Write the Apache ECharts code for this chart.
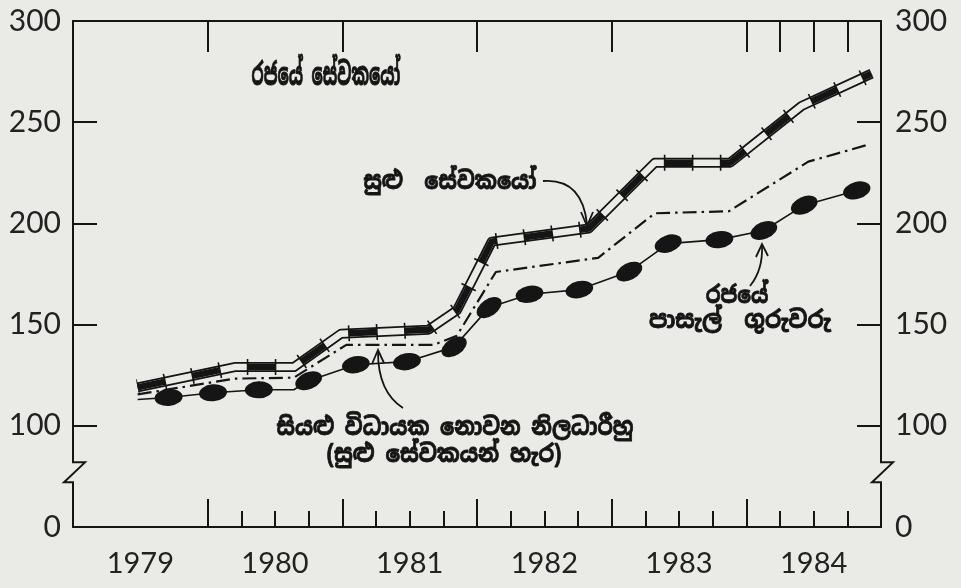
<!DOCTYPE html>
<html>
<head>
<meta charset="utf-8">
<script src="https://cdn.jsdelivr.net/npm/echarts@6/dist/echarts.min.js"></script>
<style>
html, body { margin: 0; background: #eaeae6; }
#chart { width: 961px; height: 588px; }
</style>
</head>
<body>
<div id="chart"></div>
<script>
// සුළු සේවකයෝ (ද්විත්ව රේඛාව)
var minorT = [1979.48, 1980.2, 1980.64, 1980.99, 1981.64, 1981.85, 1982.11, 1982.83, 1983.32, 1983.88, 1984.41, 1984.93];
var minorV = [119, 129, 129, 145.5, 147.5, 157, 191, 197.5, 230, 230, 258, 274];
// විධායක නොවන නිලධාරීහු (ඉරි-තිත් රේඛාව)
var officerT = [1979.48, 1980.2, 1980.64, 1981.03, 1981.68, 1981.85, 1982.14, 1982.9, 1983.32, 1983.87, 1984.46, 1984.91];
var officerV = [115.5, 123.3, 123.8, 140, 140, 144.5, 176, 183, 205, 206, 230.5, 239];
// පාසැල් ගුරුවරු (ඕවලාකාර ලකුණු)
var teacherT = [1979.48, 1979.71, 1980.04, 1980.38, 1980.64, 1980.75, 1981.1, 1981.48, 1981.83, 1982.09, 1982.39, 1982.76, 1983.13, 1983.42, 1983.8, 1984.13, 1984.43, 1984.82];
var teacherV = [113, 114, 116.3, 117.8, 117.8, 122.3, 130.2, 131.7, 139, 158.4, 165, 167.3, 176.2, 190, 192, 196.5, 209, 216.3];
var teacherNoMark = [0, 4];

var yearTicks = [1980, 1981, 1982, 1983, 1984];
var quarterTicks = [1980.25, 1980.5, 1980.75, 1981.25, 1981.5, 1981.75, 1982.25, 1982.5, 1982.75,
    1983.25, 1983.5, 1983.75, 1984.25, 1984.5, 1984.75];
var topTicks = [1980, 1981, 1982, 1983, 1984, 1984.25, 1984.5, 1984.75];
var yearLabelPos = [1979.5, 1980.5, 1981.5, 1982.5, 1983.5, 1984.5];

var INK = '#151515';
var PAPER = '#eaeae6';
var SI_FONT = '"Noto Sans Sinhala", "Iskoola Pota", "Noto Sans", sans-serif';

function pairs(t, v) {
    var out = [];
    for (var i = 0; i < t.length; i++) out.push([t[i], v[i]]);
    return out;
}

var chart = echarts.init(document.getElementById('chart'));

var gridBox = { left: 73, right: 80, top: 21, bottom: 61 };
var tickStyle = { color: INK, width: 2 };

function yAxisDef(pos, margin) {
    return {
        type: 'value', min: 50, max: 300, interval: 50, position: pos, gridIndex: 0,
        axisLine: { show: true, lineStyle: { color: INK, width: 2 } },
        axisTick: { show: true, inside: true, length: 24, lineStyle: tickStyle },
        splitLine: { show: false },
        axisLabel: {
            color: '#222', fontSize: 30, fontFamily: 'Lato', margin: margin,
            formatter: function (v) { return v === 50 ? '0' : String(v); }
        }
    };
}

var option = {
    backgroundColor: PAPER,
    animation: false,
    grid: [gridBox, echarts.util.clone(gridBox)],
    xAxis: [{
        type: 'value', min: 1979, max: 1985, position: 'bottom', gridIndex: 0,
        axisLine: { show: true, onZero: false, lineStyle: { color: INK, width: 2 } },
        axisTick: { show: true, inside: true, length: 28, customValues: yearTicks, lineStyle: tickStyle },
        splitLine: { show: false },
        axisLabel: {
            customValues: yearLabelPos, color: '#222', fontSize: 29, fontFamily: 'Lato', margin: 22,
            formatter: function (v) { return String(Math.floor(v)); }
        }
    }, {
        type: 'value', min: 1979, max: 1985, position: 'top', gridIndex: 0,
        axisLine: { show: true, onZero: false, lineStyle: { color: INK, width: 2 } },
        axisTick: { show: true, inside: true, length: 31, customValues: topTicks, lineStyle: tickStyle },
        splitLine: { show: false },
        axisLabel: { show: false }
    }, {
        type: 'value', min: 1979, max: 1985, position: 'bottom', gridIndex: 1,
        axisLine: { show: false, onZero: false },
        axisTick: { show: true, inside: true, length: 16, customValues: quarterTicks, lineStyle: tickStyle },
        splitLine: { show: false },
        axisLabel: { show: false }
    }],
    yAxis: [
        yAxisDef('left', 12),
        yAxisDef('right', 14),
        { type: 'value', min: 50, max: 300, gridIndex: 1, show: false, splitLine: { show: false } }
    ],
    series: [{
        name: 'සුළු සේවකයෝ', type: 'line', silent: true, symbol: 'none', z: 3,
        data: pairs(minorT, minorV),
        lineStyle: { color: INK, width: 10, cap: 'butt', join: 'round' }
    }, {
        type: 'line', silent: true, symbol: 'none', z: 4,
        data: pairs(minorT, minorV),
        lineStyle: { color: PAPER, width: 6.5, cap: 'butt', join: 'round' }
    }, {
        type: 'line', silent: true, symbol: 'none', z: 5,
        data: pairs(minorT, minorV),
        lineStyle: { color: INK, width: 6.5, type: [28, 28], cap: 'butt', join: 'round' }
    }, {
        type: 'line', silent: true, symbol: 'none', z: 6,
        data: pairs(minorT, minorV),
        lineStyle: { color: INK, width: 16, type: [1.6, 26.4], dashOffset: 0.8, cap: 'butt' }
    }, {
        name: 'සියළු විධායක නොවන නිලධාරීහු', type: 'line', silent: true, symbol: 'none', z: 3,
        data: pairs(officerT, officerV),
        lineStyle: { color: INK, width: 2.2, type: [14, 5, 2.5, 5], cap: 'butt' }
    }, {
        name: 'රජයේ පාසැල් ගුරුවරු', type: 'line', silent: true, z: 3,
        data: pairs(teacherT, teacherV),
        symbol: 'circle', symbolSize: [28, 17], showAllSymbol: true,
        itemStyle: { color: INK },
        lineStyle: { color: INK, width: 1.6 }
    }]
};

chart.setOption(option);

// ඕවල ලකුණු රේඛාවේ දිශාවට කරකවන්න
var px = pairs(teacherT, teacherV).map(function (p) {
    return chart.convertToPixel({ xAxisIndex: 0, yAxisIndex: 0 }, p);
});
var teacherData = pairs(teacherT, teacherV).map(function (p, i) {
    var a = px[Math.max(0, i - 1)], b = px[Math.min(px.length - 1, i + 1)];
    var ang = Math.atan2(a[1] - b[1], b[0] - a[0]) * 180 / Math.PI;
    var item = { value: p, symbolRotate: ang };
    if (teacherNoMark.indexOf(i) >= 0) item.symbol = 'none';
    return item;
});

// අක්ෂ බිඳුම් (zigzag)
var yb = chart.convertToPixel({ yAxisIndex: 0 }, 77);
var xl = chart.convertToPixel({ xAxisIndex: 0 }, 1979);
var xr = chart.convertToPixel({ xAxisIndex: 0 }, 1985);
function zigzag(x, y) {
    return [{
        type: 'rect', shape: { x: x - 4, y: y - 10, width: 8, height: 20 },
        style: { fill: PAPER }, z: 50
    }, {
        type: 'polyline', shape: { points: [[x, y - 12], [x, y - 10], [x + 12, y - 10], [x - 9, y + 10], [x, y + 10], [x, y + 12]] },
        style: { stroke: INK, lineWidth: 2, fill: null }, z: 51
    }];
}

function siText(txt, x, y, size, sx, weight) {
    return {
        type: 'text', x: x, y: y, z: 60, scaleX: sx,
        style: {
            text: txt, align: 'center', verticalAlign: 'middle', fill: INK,
            stroke: INK, lineWidth: weight,
            font: 'bold ' + size + 'px ' + SI_FONT
        }
    };
}
function arrow(p0, cp, p1, head) {
    return [{
        type: 'bezierCurve', z: 60,
        shape: { x1: p0[0], y1: p0[1], cpx1: cp[0], cpy1: cp[1], x2: p1[0], y2: p1[1] },
        style: { stroke: INK, lineWidth: 1.8, fill: null }
    }, {
        type: 'polyline', z: 60, shape: { points: head },
        style: { stroke: INK, lineWidth: 1.8, fill: null }
    }];
}

var graphics = [].concat(
    zigzag(xl, yb), zigzag(xr, yb),
    [siText('රජයේ සේවකයෝ', 326, 76, 31, 0.54, 0.9),
     siText('සුළු  සේවකයෝ', 450, 182, 24, 0.88, 0.8),
     siText('සියළු විධායක නොවන නිලධාරීහු', 455, 428, 24, 0.88, 0.8),
     siText('(සුළු සේවකයන් හැර)', 444, 455, 24, 0.9, 0.8),
     siText('රජයේ', 737, 296, 24, 0.85, 0.8),
     siText('පාසැල්  ගුරුවරු', 740, 321, 24, 0.93, 0.8)],
    arrow([543, 181], [582, 178], [587, 224], [[581, 212], [587, 226], [593, 212]]),
    arrow([403, 408], [378, 392], [378, 352], [[372, 364], [378, 350], [384, 363]]),
    arrow([750, 286], [763, 270], [762, 246], [[756, 257], [762, 244], [768, 256]])
);

chart.setOption({
    series: [{}, {}, {}, {}, {}, { data: teacherData }],
    graphic: graphics
});
</script>
</body>
</html>
